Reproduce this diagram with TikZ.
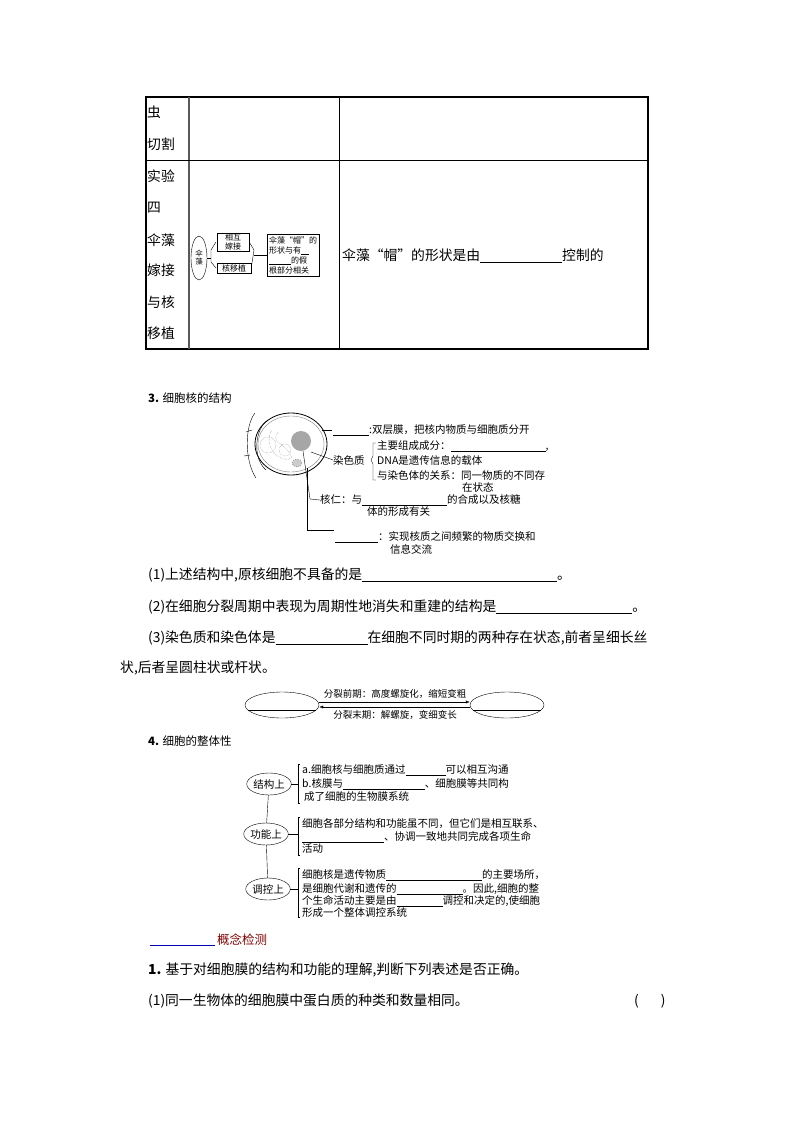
\documentclass[tikz,border=0pt]{standalone}
\usepackage{fontspec}
\setmainfont{Noto Sans CJK SC}
\usetikzlibrary{arrows.meta,shapes.geometric}
\newcommand{\ulx}[1]{\rule[-2pt]{#1}{0.6pt}}
\begin{document}
\begin{tikzpicture}[x=1pt,y=-1pt,
  t/.style={anchor=west,inner sep=0pt,font=\fontsize{13.8}{15}\selectfont},
  s/.style={anchor=west,inner sep=0pt,font=\fontsize{10.5}{12}\selectfont},
  xs/.style={anchor=west,inner sep=0pt,font=\fontsize{9.5}{10}\selectfont},
  ov/.style={draw,ellipse,inner sep=1pt}]
\useasboundingbox[fill=white] (0,0) rectangle (793,1122);
% ---------- table ----------
\draw[line width=2pt] (146,97) rectangle (648,349);
\draw[line width=1.5pt,gray!70!black] (189,97) -- (189,349);
\draw[line width=0.8pt] (339,97) -- (339,349) (146,160) -- (648,160);
\foreach \y/\s in {112/虫,144/切割,176/实验,208/四,240/伞藻,270/嫁接,302/与核,333/移植}
  \node[t] (c\y) at (147,\y) {\s};
% small diagram
\node[draw,ellipse,minimum width=16pt,minimum height=44pt,inner sep=0pt,align=center,font=\fontsize{7.5}{8}\selectfont] (san) at (199,258) {伞\\藻};
\node[draw,inner sep=1pt,align=center,minimum width=32pt,font=\fontsize{8}{9}\selectfont] (hj) at (233,242) {相互\\嫁接};
\node[draw,inner sep=1pt,minimum width=34pt,font=\fontsize{8}{9}\selectfont] (hy) at (234,268) {核移植};
\node[draw,inner sep=2pt,align=left,font=\fontsize{8}{10}\selectfont] (big) at (293,255) {伞藻“帽”的\\形状与有\rule[-1pt]{8pt}{0.4pt}\\\rule[-1pt]{22pt}{0.4pt}的假\\根部分相关};
\draw (san.east) -- (211,258);
\draw (216,242) -- (211,250) -- (211,262) -- (216,268);
\draw (hj.east) -- (254,250) -- (hy.east);
\draw (254,255) -- (big.west);
\node[t] (r) at (342,256) {伞藻“帽”的形状是由\ulx{82pt}控制的};
% ---------- section 3 ----------
\node[anchor=west,inner sep=0pt,font=\fontsize{11.5}{13}\selectfont] (h3) at (148,398) {\textbf{3.} 细胞核的结构};
% cell drawing
\draw[line width=0.8pt] (291,444) ellipse (36 and 31);
\draw[gray] (291,444) ellipse (33 and 28);
\draw (268,420) .. controls (255,428) and (252,458) .. (266,470);
\draw (255,413) .. controls (245,425) and (244,460) .. (256,478);
\draw (252,430) -- (246,432) (250,455) -- (244,456);
\draw[densely dotted,gray] (272,430) .. controls (262,445) and (280,465) .. (292,458) .. controls (285,440) and (270,445) .. (278,432);
\draw[densely dotted,gray] (268,445) circle (8) (285,450) circle (6);
\node[circle,fill=gray!70,inner sep=0pt,minimum size=20pt] (nuc) at (301,441) {};
\draw[dotted,fill=gray!40] (297,463) ellipse (5 and 4);
\draw (322,430) -- (332,430);
\node[s] (m1) at (333,430) {\ulx{36pt}:双层膜，把核内物质与细胞质分开};
\node[s] (rs) at (333,460) {染色质};
\draw (311,452) -- (rs.west);
\draw (376,443) -- (373,443) -- (373,456) -- (371,460) -- (373,464) -- (373,480) -- (376,480);
\node[s] at (377,446) {主要组成成分：\ulx{95pt},};
\node[s] at (377,460) {DNA是遗传信息的载体};
\node[s] at (377,475) {与染色体的关系：同一物质的不同存};
\node[s] at (462,487) {在状态};
\node[s] (hr) at (320,500) {核仁：与\ulx{85pt}的合成以及核糖};
\draw (303,451) -- (310,499) -- (hr.west);
\node[s] at (367,512) {体的形成有关};
\draw (307,468) -- (307,530) -- (334,530);
\node[s] at (335,537) {\ulx{43pt}：实现核质之间频繁的物质交换和};
\node[s] at (390,549) {信息交流};
% questions
\node[t] at (148,575) {(1)上述结构中,原核细胞不具备的是\ulx{195pt}。};
\node[t] at (148,607) {(2)在细胞分裂周期中表现为周期性地消失和重建的结构是\ulx{136pt}。};
\node[t] at (148,638) {(3)染色质和染色体是\ulx{92pt}在细胞不同时期的两种存在状态,前者呈细长丝};
\node[t] at (120,668) {状,后者呈圆柱状或杆状。};
% ellipse diagram
\node[draw,ellipse,minimum width=74pt,minimum height=26pt] (e1) at (282,705) {};
\node[draw,ellipse,minimum width=74pt,minimum height=26pt] (e2) at (507,705) {};
\draw (248,710) -- (316,710) (473,710) -- (541,710);
\draw[-{Latex[length=4pt]}] (e1.east|-0,702) -- (e2.west|-0,702);
\draw[-{Latex[length=4pt]}] (e2.west|-0,707) -- (e1.east|-0,707);
\node[xs,anchor=center] at (395,694) {分裂前期：高度螺旋化，缩短变粗};
\node[xs,anchor=center] at (395,715) {分裂末期：解螺旋，变细变长};
% section 4
\node[anchor=west,inner sep=0pt,font=\fontsize{11.5}{13}\selectfont] at (148,741) {\textbf{4.} 细胞的整体性};
\node[ov,s,anchor=center,minimum width=42pt,minimum height=22pt] (a1) at (269,784) {结构上};
\node[ov,s,anchor=center,minimum width=42pt,minimum height=22pt] (a2) at (266,834) {功能上};
\node[ov,s,anchor=center,minimum width=42pt,minimum height=22pt] (a3) at (268,889) {调控上};
\draw (a1) -- (a2) -- (a3);
\draw (a1.east) -- (298,784) (a2.east) -- (298,834) (a3.east) -- (298,889);
\draw (300,764) -- (298,764) -- (298,803) -- (300,803);
\draw (300,817) -- (298,817) -- (298,855) -- (300,855);
\draw (300,868) -- (298,868) -- (298,917) -- (300,917);
\node[s] at (302,770) {a.细胞核与细胞质通过\ulx{40pt}可以相互沟通};
\node[s] at (302,784) {b.核膜与\ulx{82pt}、细胞膜等共同构};
\node[s] at (304,797) {成了细胞的生物膜系统};
\node[s] at (302,824) {细胞各部分结构和功能虽不同，但它们是相互联系、};
\node[s] at (302,837) {\ulx{82pt}、协调一致地共同完成各项生命};
\node[s] at (302,849) {活动};
\node[s] at (302,875) {细胞核是遗传物质\ulx{96pt}的主要场所，};
\node[s] at (302,889) {是细胞代谢和遗传的\ulx{66pt}。因此,细胞的整};
\node[s] at (302,901) {个生命活动主要是由\ulx{46pt}调控和决定的,使细胞};
\node[s] at (302,913) {形成一个整体调控系统};
% concept check
\draw[line width=1pt,blue!70!black] (150,945) -- (215,945);
\node[t,text=red!50!black,font=\fontsize{12.5}{14}\selectfont] at (217,940) {概念检测};
\node[t] at (148,970) {\textbf{1.} 基于对细胞膜的结构和功能的理解,判断下列表述是否正确。};
\node[t] at (148,1001) {(1)同一生物体的细胞膜中蛋白质的种类和数量相同。};
\node[t] at (634,1001) {(\hspace{22pt})};
\end{tikzpicture}
\end{document}
